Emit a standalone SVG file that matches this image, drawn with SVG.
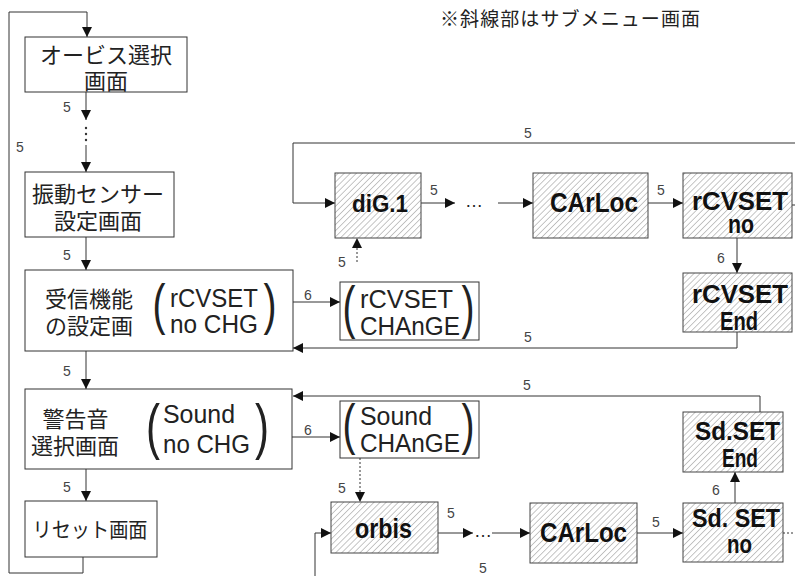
<svg xmlns="http://www.w3.org/2000/svg" width="795" height="576" viewBox="0 0 795 576">
<style>
.box{fill:#fff;stroke:#333;stroke-width:1}
.hbox{fill:url(#hatch);stroke:#444;stroke-width:1}
.jp{font-family:"Noto Sans CJK JP","Noto Sans CJK SC",sans-serif;font-size:22px;fill:#222;text-anchor:middle;dominant-baseline:central}
.lt{font-family:"Liberation Sans",Arial,sans-serif;font-size:26px;fill:#222}
.par{font-family:"Liberation Sans",Arial,sans-serif;fill:#222;text-anchor:middle}
.bt{font-family:"Liberation Sans",Arial,sans-serif;font-size:25px;font-weight:bold;fill:#111}
.lb{font-family:"Liberation Sans",Arial,sans-serif;font-size:14px;fill:#444;text-anchor:middle}
.ln{fill:none;stroke:#333;stroke-width:1}
.ar{marker-end:url(#arr)}
.dot{stroke-dasharray:2 2}
</style>
<defs>
<marker id="arr" viewBox="0 0 10 10" refX="10" refY="5" markerWidth="10" markerHeight="10" markerUnits="userSpaceOnUse" orient="auto">
<path d="M0,0 L10,5 L0,10 z" fill="#111"/>
</marker>
<pattern id="hatch" patternUnits="userSpaceOnUse" width="4.3" height="10" patternTransform="rotate(45)">
<rect width="4.3" height="10" fill="#fff"/>
<line x1="0" y1="0" x2="0" y2="10" stroke="#666" stroke-width="0.8"/>
</pattern>
</defs>

<text x="440" y="17.5" style="font-family:'Noto Sans CJK JP','Noto Sans CJK SC',sans-serif;font-size:19px;fill:#222;dominant-baseline:central" textLength="260">※斜線部はサブメニュー画面</text>

<g id="connectors">
<polyline class="ln ar" points="83,557 83,573 9,573 9,12 87,12 87,37"/>
<line class="ln ar" x1="86" y1="92" x2="86" y2="120"/>
<circle cx="86" cy="128" r="1.2" fill="#333"/>
<circle cx="86" cy="134" r="1.2" fill="#333"/>
<circle cx="86" cy="140" r="1.2" fill="#333"/>
<line class="ln ar" x1="86" y1="145" x2="86" y2="172"/>
<line class="ln ar" x1="86" y1="237" x2="86" y2="270"/>
<line class="ln ar" x1="86" y1="351" x2="86" y2="389"/>
<line class="ln ar" x1="86" y1="469" x2="86" y2="501"/>
<polyline class="ln ar" points="792,205 800,205 800,143 293,143 293,203 335,203"/>
<line class="ln ar" x1="421" y1="203" x2="455" y2="203"/>
<text x="474" y="207" style="font-family:'Liberation Sans',sans-serif;font-size:18px;fill:#222;text-anchor:middle">…</text>
<line class="ln ar" x1="498" y1="203" x2="533" y2="203"/>
<line class="ln ar dot" x1="357" y1="262" x2="357" y2="238"/>
<line class="ln ar" x1="648" y1="203" x2="683" y2="203"/>
<line class="ln ar" x1="737" y1="238" x2="737" y2="273"/>
<polyline class="ln ar" points="737,332 737,348 293,348"/>
<line class="ln ar" x1="280" y1="302" x2="340" y2="302"/>
<polyline class="ln ar" points="760,412 760,396 293,396"/>
<line class="ln ar" x1="283" y1="437" x2="340" y2="437"/>
<line class="ln ar dot" x1="360" y1="458" x2="360" y2="502"/>
<polyline class="ln ar" points="315,576 315,533 331,533"/>
<line class="ln ar" x1="438" y1="533" x2="473" y2="533"/>
<text x="483" y="537" style="font-family:'Liberation Sans',sans-serif;font-size:18px;fill:#222;text-anchor:middle">…</text>
<line class="ln ar" x1="492" y1="533" x2="530" y2="533"/>
<line class="ln ar" x1="637" y1="533" x2="683" y2="533"/>
<line class="ln ar" x1="735" y1="503" x2="735" y2="472"/>
<line class="ln dot" x1="783" y1="533" x2="795" y2="533"/>

<text class="lb" x="67" y="112">5</text>
<text class="lb" x="20" y="152">5</text>
<text class="lb" x="67" y="260">5</text>
<text class="lb" x="67" y="376">5</text>
<text class="lb" x="67" y="492">5</text>
<text class="lb" x="528" y="138">5</text>
<text class="lb" x="434" y="195">5</text>
<text class="lb" x="342" y="267">5</text>
<text class="lb" x="661" y="195">5</text>
<text class="lb" x="721" y="263">6</text>
<text class="lb" x="528" y="342">5</text>
<text class="lb" x="308" y="300">6</text>
<text class="lb" x="527" y="390">5</text>
<text class="lb" x="308" y="435">6</text>
<text class="lb" x="342" y="493">5</text>
<text class="lb" x="451" y="518">5</text>
<text class="lb" x="483" y="573">5</text>
<text class="lb" x="656" y="527">5</text>
<text class="lb" x="716" y="495">6</text>
</g>

<g id="orbis-select">
<rect class="box" x="25" y="37" width="162" height="55"/>
<text class="jp" x="106" y="52.5">オービス選択</text>
<text class="jp" x="106" y="78.5">画面</text>
</g>

<g id="vibration-sensor">
<rect class="box" x="25" y="172" width="149" height="65"/>
<text class="jp" x="98" y="192">振動センサー</text>
<text class="jp" x="98" y="219">設定画面</text>
</g>

<g id="receiver-setting">
<rect class="box" x="25" y="270" width="268" height="81"/>
<text class="jp" x="89" y="296.5">受信機能</text>
<text class="jp" x="89" y="324">の設定画</text>
<text class="par" x="159" y="323" font-size="55" textLength="13" lengthAdjust="spacingAndGlyphs">(</text>
<text class="lt" x="170" y="307" textLength="88" lengthAdjust="spacingAndGlyphs">rCVSET</text>
<text class="lt" x="170" y="333" textLength="88" lengthAdjust="spacingAndGlyphs">no CHG</text>
<text class="par" x="270" y="323" font-size="55" textLength="13" lengthAdjust="spacingAndGlyphs">)</text>
</g>

<g id="rcvset-change">
<rect class="box" x="340" y="282" width="139" height="58"/>
<text class="par" x="349" y="327" font-size="58" textLength="13" lengthAdjust="spacingAndGlyphs">(</text>
<text class="lt" x="360" y="308" textLength="93" lengthAdjust="spacingAndGlyphs">rCVSET</text>
<text class="lt" x="360" y="335" textLength="100" lengthAdjust="spacingAndGlyphs">CHAnGE</text>
<text class="par" x="468" y="327" font-size="58" textLength="13" lengthAdjust="spacingAndGlyphs">)</text>
</g>

<g id="alarm-select">
<rect class="box" x="25" y="389" width="267" height="80"/>
<text class="jp" x="75.5" y="417">警告音</text>
<text class="jp" x="75" y="444">選択画面</text>
<text class="par" x="153" y="447" font-size="62" textLength="14" lengthAdjust="spacingAndGlyphs">(</text>
<text class="lt" x="163" y="423" textLength="72" lengthAdjust="spacingAndGlyphs">Sound</text>
<text class="lt" x="163" y="453" textLength="87" lengthAdjust="spacingAndGlyphs">no CHG</text>
<text class="par" x="262" y="447" font-size="62" textLength="14" lengthAdjust="spacingAndGlyphs">)</text>
</g>

<g id="sound-change">
<rect class="box" x="340" y="401" width="139" height="57"/>
<text class="par" x="349" y="443" font-size="56" textLength="13" lengthAdjust="spacingAndGlyphs">(</text>
<text class="lt" x="360" y="425" textLength="72" lengthAdjust="spacingAndGlyphs">Sound</text>
<text class="lt" x="360" y="452" textLength="100" lengthAdjust="spacingAndGlyphs">CHAnGE</text>
<text class="par" x="468" y="443" font-size="56" textLength="13" lengthAdjust="spacingAndGlyphs">)</text>
</g>

<g id="reset">
<rect class="box" x="25" y="501" width="132" height="56"/>
<text class="jp" x="90" y="527.5" textLength="115" lengthAdjust="spacingAndGlyphs" style="font-size:21px">リセット画面</text>
</g>

<g id="dig1">
<rect class="hbox" x="335" y="173" width="86" height="65"/>
<text class="bt" x="352" y="212" textLength="56" lengthAdjust="spacingAndGlyphs" style="font-size:24px">diG.1</text>
</g>

<g id="carloc-1">
<rect class="hbox" x="533" y="173" width="115" height="65"/>
<text class="bt" x="550" y="212" textLength="88" lengthAdjust="spacingAndGlyphs" style="font-size:28px">CArLoc</text>
</g>

<g id="rcvset-no">
<rect class="hbox" x="683" y="173" width="109" height="65"/>
<text class="bt" x="692" y="210" textLength="96" lengthAdjust="spacingAndGlyphs">rCVSET</text>
<text class="bt" x="728" y="233" textLength="26" lengthAdjust="spacingAndGlyphs">no</text>
</g>

<g id="rcvset-end">
<rect class="hbox" x="683" y="273" width="109" height="59"/>
<text class="bt" x="692" y="303" textLength="96" lengthAdjust="spacingAndGlyphs">rCVSET</text>
<text class="bt" x="720" y="330" textLength="38" lengthAdjust="spacingAndGlyphs">End</text>
</g>

<g id="orbis">
<rect class="hbox" x="331" y="502" width="107" height="51"/>
<text class="bt" x="355" y="538" textLength="57" lengthAdjust="spacingAndGlyphs" style="font-size:28px">orbis</text>
</g>

<g id="carloc-2">
<rect class="hbox" x="530" y="503" width="107" height="60"/>
<text class="bt" x="540" y="542" textLength="87" lengthAdjust="spacingAndGlyphs" style="font-size:27px">CArLoc</text>
</g>

<g id="sdset-no">
<rect class="hbox" x="683" y="503" width="100" height="59"/>
<text class="bt" x="692" y="527" textLength="88" lengthAdjust="spacingAndGlyphs">Sd. SET</text>
<text class="bt" x="727" y="553" textLength="25" lengthAdjust="spacingAndGlyphs">no</text>
</g>

<g id="sdset-end">
<rect class="hbox" x="683" y="412" width="100" height="60"/>
<text class="bt" x="695" y="440" textLength="85" lengthAdjust="spacingAndGlyphs">Sd.SET</text>
<text class="bt" x="722" y="467" textLength="36" lengthAdjust="spacingAndGlyphs">End</text>
</g>
</svg>
